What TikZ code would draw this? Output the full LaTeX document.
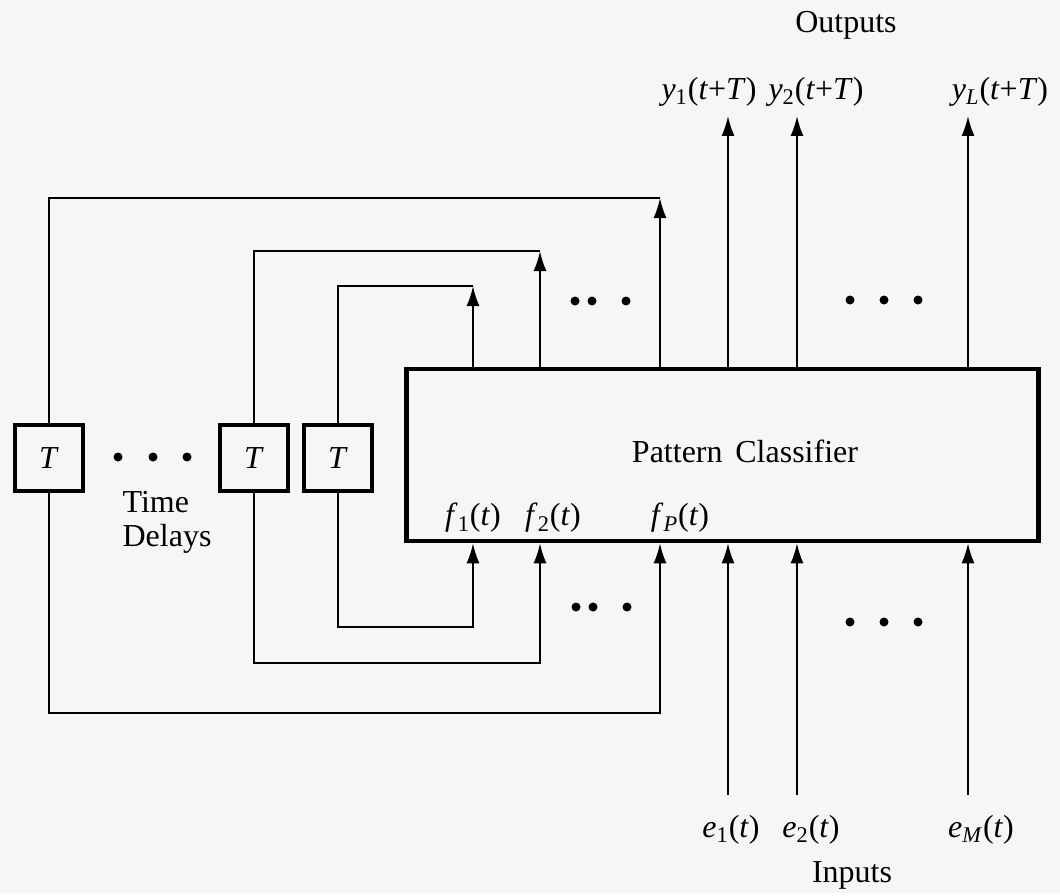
\documentclass[tikz,border=0pt]{standalone}
\usepackage{fontspec}
\setmainfont{Liberation Serif}
\usetikzlibrary{arrows.meta}
\newcommand{\sig}[3]{\textit{#1}\textsubscript{#2}(#3)}
\begin{document}
\begin{tikzpicture}[x=0.5pt,y=-0.5pt,font=\fontsize{16}{17}\selectfont,
  line width=0.95pt,>={Latex[length=10pt,width=6.5pt]},
  delay/.style={draw,rectangle,line width=2.3pt,minimum width=34pt,minimum height=33pt,inner sep=0pt},
  classifier/.style={draw,rectangle,line width=2.3pt,minimum width=316pt,minimum height=86pt}]
\fill[gray!7] (0,0) rectangle (1060,893);
\node[delay] (d1) at (49,458) {\textit{T}};
\node[delay] (d2) at (254,458) {\textit{T}};
\node[delay] (d3) at (338,458) {\textit{T}};
\node[classifier] (pc) at (722.5,455) {};
\node (pclbl) at (745,451) {Pattern\hspace{0.4em}Classifier};
\node[align=left,anchor=west] (tdlbl) at (115,522) {Time\\Delays};
% feedback loops
\coordinate (top1) at (473,286);
\coordinate (top2) at (540,251);
\coordinate (top3) at (660,198);
\coordinate (bot1) at (473,627);
\coordinate (bot2) at (540,663);
\coordinate (bot3) at (660,713);
\draw[->] (pc.north -| top1) -- (top1);
\draw[->] (pc.north -| top2) -- (top2);
\draw[->] (pc.north -| top3) -- (top3);
\draw (top1) -| (d3.north);
\draw (top2) -| (d2.north);
\draw (top3) -| (d1.north);
\draw[->] (d3.south) |- (bot1) -- (pc.south -| bot1);
\draw[->] (d2.south) |- (bot2) -- (pc.south -| bot2);
\draw[->] (d1.south) |- (bot3) -- (pc.south -| bot3);
% outputs and inputs
\coordinate (out1) at (728,116);
\coordinate (out2) at (797,116);
\coordinate (outL) at (968,116);
\coordinate (in1) at (728,795);
\coordinate (in2) at (797,795);
\coordinate (inM) at (968,795);
\draw[->] (pc.north -| out1) -- (out1);
\draw[->] (pc.north -| out2) -- (out2);
\draw[->] (pc.north -| outL) -- (outL);
\draw[->] (in1) -- (in1 |- pc.south);
\draw[->] (in2) -- (in2 |- pc.south);
\draw[->] (inM) -- (inM |- pc.south);
% labels
\node (outlbl) at (846,25) {Outputs};
\node (inlbl) at (852,875) {Inputs};
\node (y1) at (709,92) {\sig{y}{1}{\textit{t}+\textit{T}}};
\node (y2) at (816,92) {\sig{y}{2}{\textit{t}+\textit{T}}};
\node (yL) at (1000,92) {\sig{y}{\textit{L}}{\textit{t}+\textit{T}}};
\node (f1) at (473,518) {\sig{f}{1}{\textit{t}}};
\node (f2) at (553,518) {\sig{f}{2}{\textit{t}}};
\node (fP) at (680,518) {\sig{f}{\textit{P}}{\textit{t}}};
\node (e1) at (731,830) {\sig{e}{1}{\textit{t}}};
\node (e2) at (811,830) {\sig{e}{2}{\textit{t}}};
\node (eM) at (981,830) {\sig{e}{\textit{M}}{\textit{t}}};
% dots
\foreach \x/\y in {118/457,153/457,187/457,575/301,592/301,626/301,
  576/607,593/607,627/607,850/300,884/300,918/300,850/622,884/622,918/622}
  \fill (\x,\y) circle (4.5);
\end{tikzpicture}
\end{document}
